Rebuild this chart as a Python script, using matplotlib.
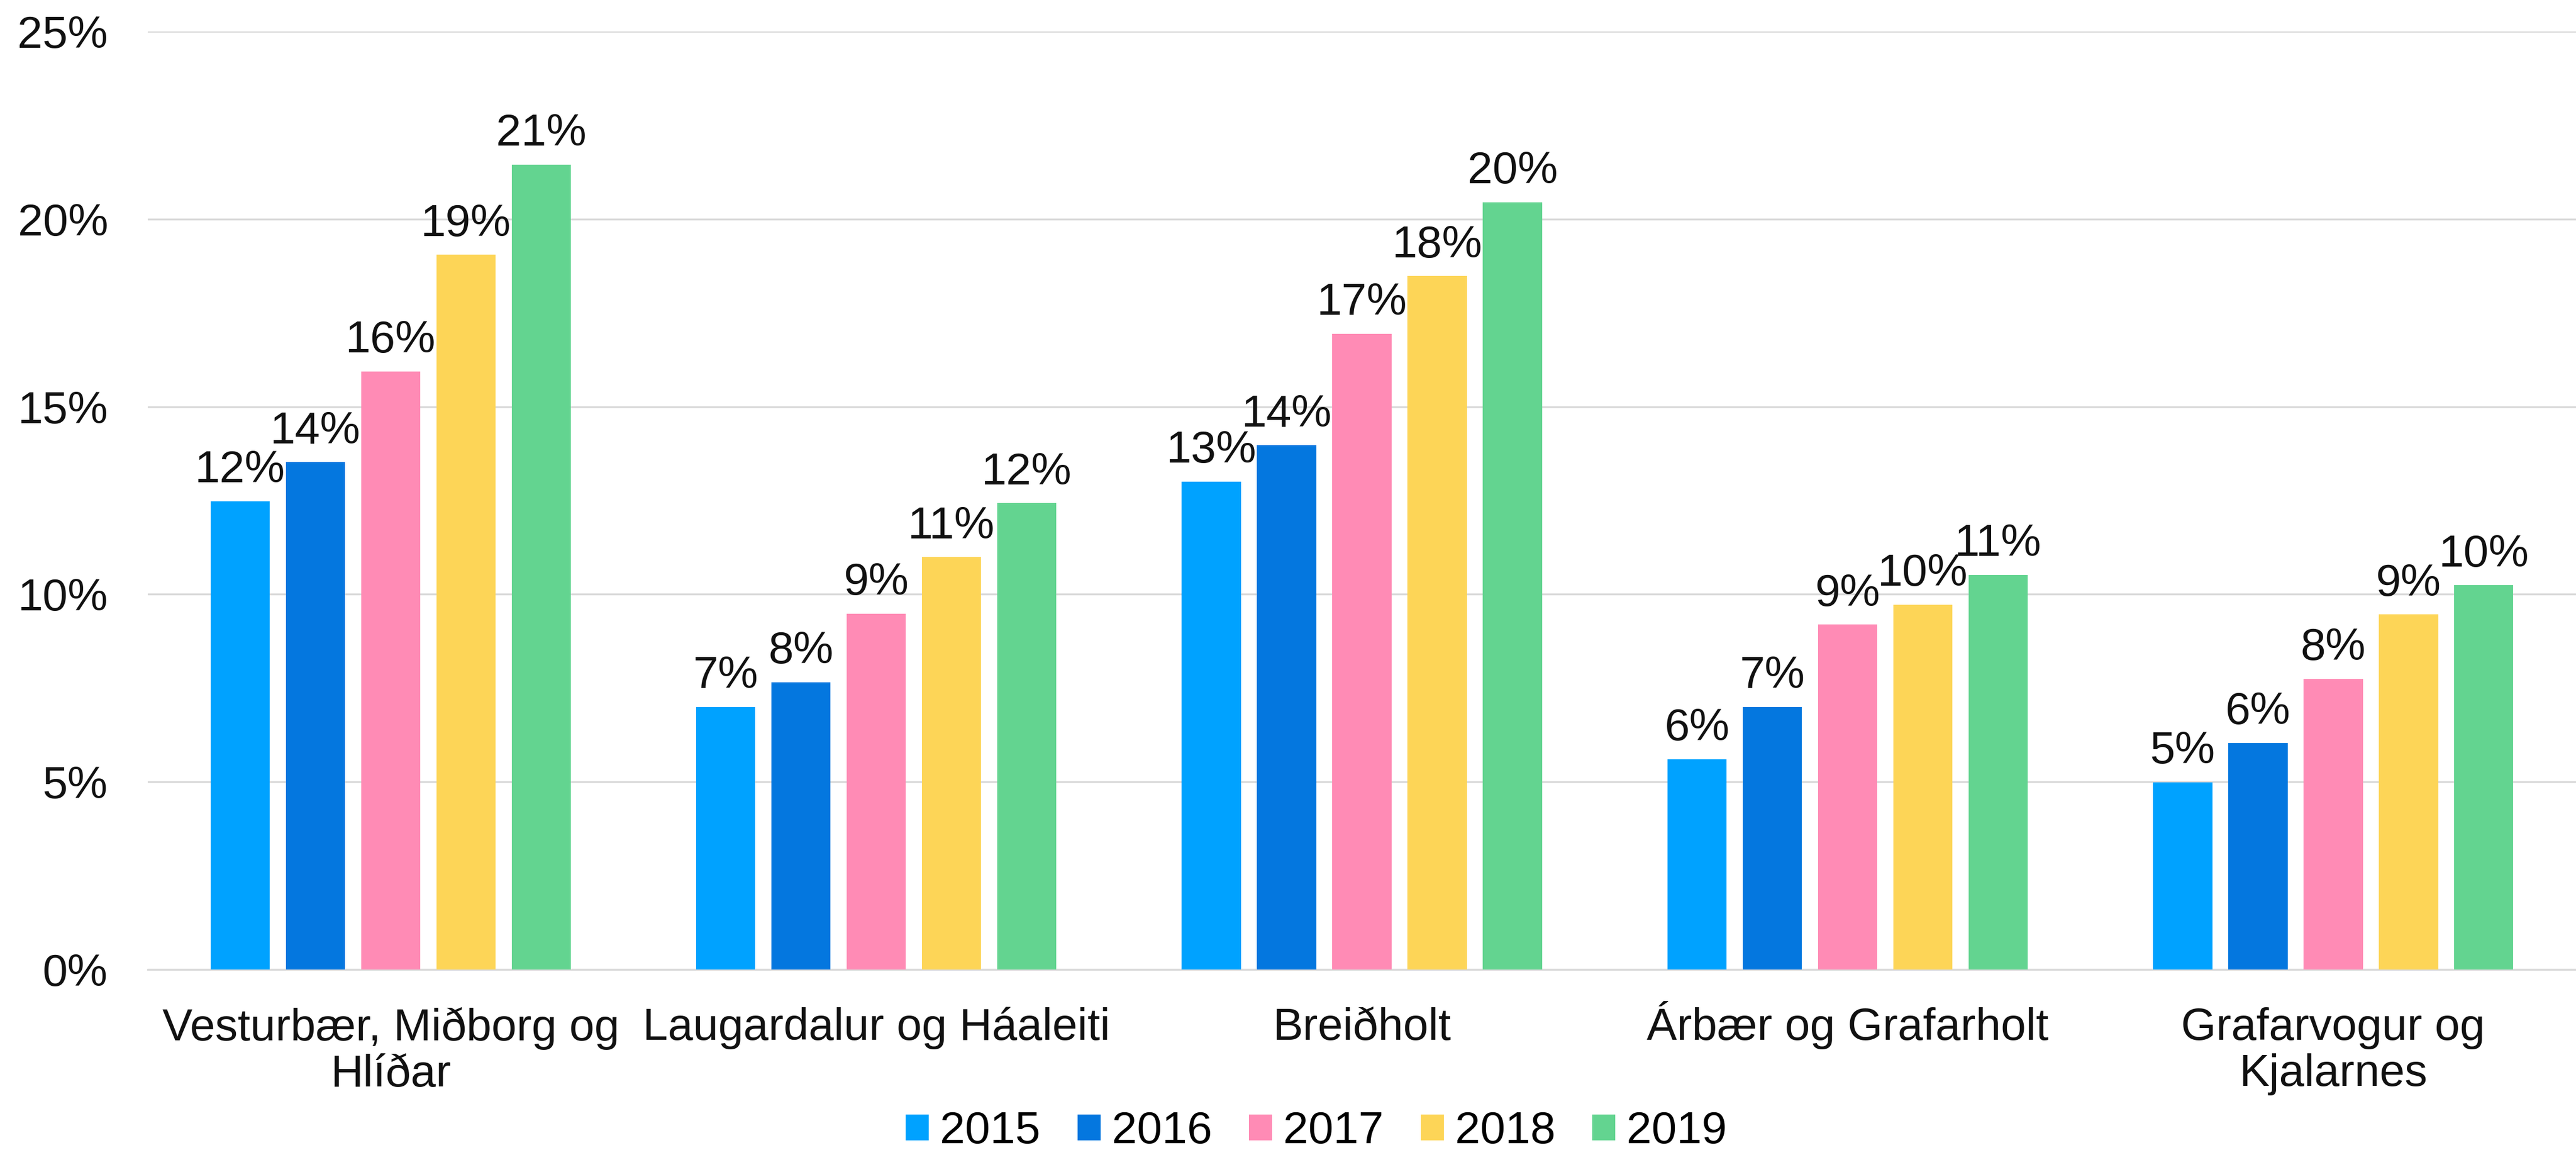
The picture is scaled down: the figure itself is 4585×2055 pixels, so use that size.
import matplotlib
matplotlib.use("Agg")
import matplotlib.pyplot as plt
from matplotlib.transforms import ScaledTranslation
import numpy as np

plt.rcParams['font.family'] = ['Liberation Sans', 'DejaVu Sans']

# data
categories = ["Vesturbær, Miðborg og\nHlíðar", "Laugardalur og Háaleiti", "Breiðholt",
              "Árbær og Grafarholt", "Grafarvogur og\nKjalarnes"]
years = ["2015", "2016", "2017", "2018", "2019"]
v2015 = [12.48, 7.0, 13.0, 5.6, 4.99]
v2016 = [13.53, 7.66, 13.97, 7.0, 6.04]
v2017 = [15.94, 9.48, 16.94, 9.19, 7.75]
v2018 = [19.05, 10.99, 18.48, 9.72, 9.46]
v2019 = [21.45, 12.43, 20.45, 10.52, 10.24]
series = [v2015, v2016, v2017, v2018, v2019]
colors = ["#00A2FF", "#0477DF", "#FF8BB5", "#FDD557", "#63D490"]

fs = 19.3
fig = plt.figure(figsize=(4585 / 300, 2055 / 300), dpi=300)
ax = fig.add_axes([0.0574, 0.1606, 0.9426, 0.8121])

x = np.arange(len(categories))
width = 0.122
step = 0.155
for i, (vals, c, yr) in enumerate(zip(series, colors, years)):
    pos = x + (i - 2) * step
    bars = ax.bar(pos, vals, width, color=c, label=yr, zorder=3)
    for b, v in zip(bars, vals):
        ax.annotate(f"{v:.0f}%", (b.get_x() + b.get_width() / 2, v),
                    xytext=(0, 4), textcoords="offset points",
                    ha="center", va="bottom", fontsize=fs, color="#111111")

ax.set_xlim(-0.5, 4.5)
ax.set_ylim(0, 25)
ax.set_yticks(range(0, 26, 5))
ax.set_yticklabels([f"{t}%" for t in range(0, 26, 5)], fontsize=fs, color="#111111")
ax.set_xticks(x)
ax.set_xticklabels(categories, fontsize=fs, color="#111111", linespacing=1.12)
ax.tick_params(axis="both", length=0)
ax.tick_params(axis="y", pad=17)
ax.tick_params(axis="x", pad=16)
ax.grid(axis="y", color="#d9d9d9", linewidth=0.8, zorder=0)
for s in ["top", "right", "left"]:
    ax.spines[s].set_visible(False)
ax.spines["bottom"].set_color("#d9d9d9")
ax.spines["bottom"].set_linewidth(0.8)

# the accent on Á pushes this label down, lift it to line up with the others
lab = ax.get_xticklabels()[3]
lab.set_transform(lab.get_transform() + ScaledTranslation(0, 2.5 / 72, fig.dpi_scale_trans))

fig.legend(loc="center", bbox_to_anchor=(0.511, 0.02), ncol=5, frameon=False,
           fontsize=fs, handlelength=0.51, handleheight=0.51, handletextpad=0.25,
           columnspacing=0.82, borderaxespad=0, borderpad=0)

fig.savefig("out.png", dpi=300, facecolor="white")
